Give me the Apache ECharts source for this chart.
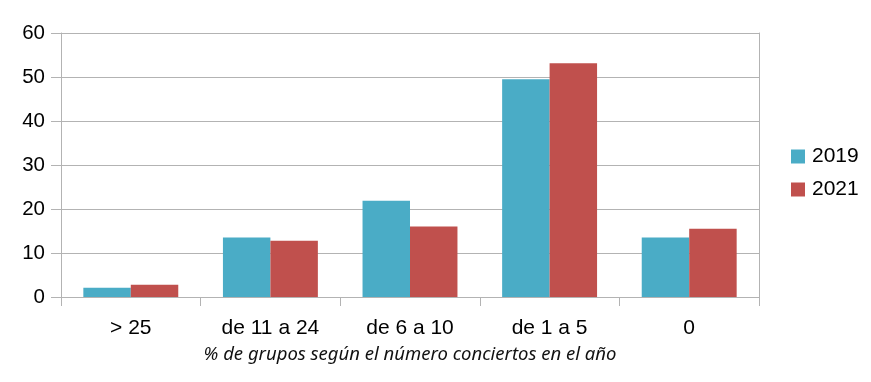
<!DOCTYPE html>
<html><head><meta charset="utf-8">
<script src="https://cdn.jsdelivr.net/npm/echarts@6/dist/echarts.min.js"></script>
<style>html,body{margin:0;padding:0;background:#fff}#c{width:871px;height:382px}</style>
</head><body><div id="c"></div>
<script>
const categories = ['> 25', 'de 11 a 24', 'de 6 a 10', 'de 1 a 5', '0'];
const values2019 = [2.1, 13.5, 21.9, 49.5, 13.5];
const values2021 = [2.8, 12.8, 16.0, 53.1, 15.5];
const yTicks = {min: 0, max: 60, interval: 10};
const axisTitle = '% de grupos según el número conciertos en el año';

const grid = '#b3b3b3';
const chart = echarts.init(document.getElementById('c'), null, {renderer: 'canvas'});
chart.setOption({
  animation: false,
  backgroundColor: '#fff',
  grid: {left: 61, right: 112, top: 33, bottom: 85, containLabel: false},
  legend: {
    orient: 'vertical', left: 791, top: 146, padding: 0,
    itemWidth: 14, itemHeight: 14, itemGap: 12,
    icon: 'rect',
    textStyle: {fontFamily: 'Liberation Sans', fontSize: 21, color: '#000', padding: [0,0,0,2]},
    data: ['2019', '2021']
  },
  xAxis: {
    type: 'category', data: categories,
    name: axisTitle, nameLocation: 'middle', nameGap: 48,
    nameTextStyle: {fontFamily: 'Noto Sans', fontStyle: 'italic', fontSize: 18.5, color: '#111'},
    axisLine: {show: true, lineStyle: {color: grid, width: 1}},
    axisTick: {show: true, length: 9, lineStyle: {color: grid}},
    axisLabel: {fontFamily: 'Liberation Sans', fontSize: 21, color: '#000', margin: 21},
    splitLine: {show: false}
  },
  yAxis: [{
    type: 'value', min: yTicks.min, max: yTicks.max, interval: yTicks.interval,
    axisLine: {show: true, lineStyle: {color: grid, width: 1}},
    axisTick: {show: true, length: 10, lineStyle: {color: grid}},
    axisLabel: {fontFamily: 'Liberation Sans', fontSize: 20.5, color: '#000', margin: 16},
    splitLine: {show: true, lineStyle: {color: grid, width: 1}}
  }, {
    type: 'value', min: yTicks.min, max: yTicks.max, interval: yTicks.interval, position: 'right',
    axisLine: {show: true, lineStyle: {color: grid, width: 1}},
    axisTick: {show: false}, axisLabel: {show: false}, splitLine: {show: false}
  }],
  series: [
    {name: '2019', type: 'bar', data: values2019, barGap: '0%', barCategoryGap: '32%',
     itemStyle: {color: '#4aacc6'}},
    {name: '2021', type: 'bar', data: values2021, barGap: '0%', barCategoryGap: '32%',
     itemStyle: {color: '#c0504d'}}
  ]
});
</script></body></html>
